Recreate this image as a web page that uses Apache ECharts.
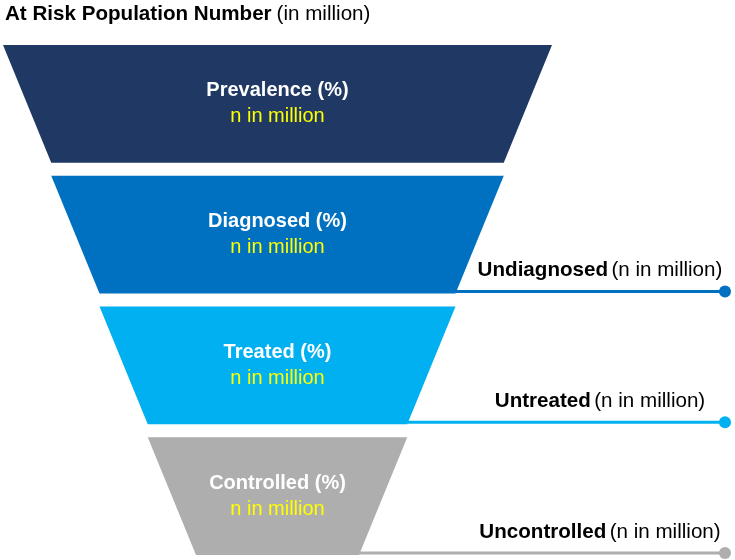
<!DOCTYPE html>
<html>
<head>
<meta charset="utf-8">
<script src="https://cdn.jsdelivr.net/npm/echarts@6/dist/echarts.min.js"></script>
<style>html,body{margin:0;padding:0;background:#fff;}#c{width:735px;height:560px;}</style>
</head>
<body>
<div id="c"></div>
<script>
var stages = ['Prevalence (%)', 'Diagnosed (%)', 'Treated (%)', 'Controlled (%)'];
var subLabels = ['n in million', 'n in million', 'n in million', 'n in million'];
var values = [100, 75, 50, 25];
var colors = ['#1F3864', '#0070C0', '#00B0F0', '#AEAEAE'];
var gapNames = ['Undiagnosed', 'Untreated', 'Uncontrolled'];
var gapSub = ['(n in million)', '(n in million)', '(n in million)'];
var FONT = '"Liberation Sans", Arial, sans-serif';

var chart = echarts.init(document.getElementById('c'), null, {renderer: 'canvas'});
chart.setOption({
  animation: false,
  title: {
    left: 0, top: -1,
    text: '{b|At Risk Population Number} {r|(in million)}',
    textStyle: {
      fontWeight: 'normal',
      rich: {
        b: {fontFamily: FONT, fontSize: 20.6, fontWeight: 'bold', color: '#000'},
        r: {fontFamily: FONT, fontSize: 20.6, fontWeight: 'normal', color: '#000'}
      }
    }
  },
  series: [{
    type: 'funnel',
    left: 3, top: 45, width: 549, height: 510,
    min: 0, max: 100,
    minSize: 163, maxSize: 549,
    sort: 'none',
    gap: 13,
    label: {
      show: true, position: 'inside', offset: [0, 2],
      formatter: function (p) { return '{a|' + p.name + '}\n{b|' + subLabels[p.dataIndex] + '}'; },
      rich: {
        a: {fontFamily: FONT, fontSize: 20, fontWeight: 'bold', color: '#fff', lineHeight: 26},
        b: {fontFamily: FONT, fontSize: 20, color: '#FFFF00', lineHeight: 26}
      }
    },
    labelLine: {show: false},
    itemStyle: {borderWidth: 0},
    emphasis: {disabled: true},
    data: stages.map(function (s, i) {
      return {name: s, value: values[i], itemStyle: {color: colors[i]}};
    })
  }]
});

var data = chart.getModel().getSeriesByIndex(0).getData();
var els = [];
for (var i = 1; i < stages.length; i++) {
  var pts = data.getItemLayout(i).points;
  var br = pts[2];
  var y = br[1] - 2;
  var col = colors[i];
  els.push({type: 'line', shape: {x1: br[0], y1: y, x2: 725, y2: y}, style: {stroke: col, lineWidth: 3}, silent: true});
  els.push({type: 'circle', shape: {cx: 725, cy: y, r: 6}, style: {fill: col}, silent: true});
  els.push({
    type: 'text', x: 600, y: y - 21,
    style: {
      text: '{b|' + gapNames[i - 1] + '} {r|' + gapSub[i - 1] + '}',
      align: 'center', verticalAlign: 'middle',
      rich: {
        b: {fontFamily: FONT, fontSize: 20.6, fontWeight: 'bold', fill: '#000'},
        r: {fontFamily: FONT, fontSize: 20.6, fontWeight: 'normal', fill: '#000'}
      }
    },
    silent: true
  });
}
chart.setOption({graphic: {elements: els}});
</script>
</body>
</html>
